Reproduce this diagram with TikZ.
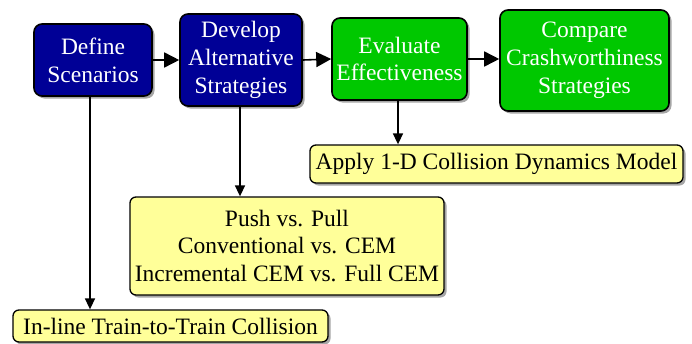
\documentclass[tikz,border=0pt]{standalone}
\usepackage{fontspec}
\setmainfont{Liberation Serif}
\usetikzlibrary{arrows.meta,shadows}
\definecolor{stepblue}{RGB}{0,0,150}
\definecolor{stepgreen}{RGB}{0,200,0}
\definecolor{noteyellow}{RGB}{255,255,153}
\tikzset{
  box/.style={draw=black, line width=1.6pt, rounded corners=8pt, align=center,
    inner sep=1pt, font=\fontsize{23.5}{27.8}\selectfont,
    drop shadow={shadow xshift=2.5pt, shadow yshift=-2.5pt, fill=black, opacity=0.35}},
  bluebox/.style={box, fill=stepblue, text=white},
  greenbox/.style={box, fill=stepgreen, text=white},
  notebox/.style={box, fill=noteyellow, text=black, rounded corners=6pt, line width=1.3pt},
  bigarrow/.style={line width=1.6pt, -{Triangle[length=15pt,width=15pt]}},
  smallarrow/.style={line width=1.6pt, -{Triangle[length=11pt,width=10pt]}}
}
\begin{document}
\begin{tikzpicture}[x=1pt,y=-1pt]
\useasboundingbox (0,0) rectangle (692,343);

\node[bluebox, minimum width=118pt, minimum height=72pt] (def) at (93,60) {Define\\Scenarios};
\node[bluebox, minimum width=122pt, minimum height=92pt] (dev) at (241,60) {Develop\\Alternative\\Strategies};
\node[greenbox, minimum width=135pt, minimum height=82pt] (eval) at (399.5,59) {Evaluate\\Effectiveness};
\node[greenbox, minimum width=169pt, minimum height=101pt] (cmp) at (584.5,60.5) {Compare\\Crashworthiness\\Strategies};

\node[notebox, minimum width=373pt, minimum height=38pt] (apply) at (496.5,164) {Apply 1-D Collision Dynamics Model};
\node[notebox, minimum width=314pt, minimum height=98pt] (push) at (287,246) {Push vs. Pull\\Conventional vs. CEM\\Incremental CEM vs. Full CEM};
\node[notebox, minimum width=315pt, minimum height=32pt] (inline) at (170.5,326) {In-line Train-to-Train Collision};

% main flow
\draw[bigarrow] (def.east) -- (dev.west);
\draw[bigarrow] (dev.east) -- (eval.west);
\draw[bigarrow] (eval.east) -- (eval.east -| cmp.west);

% details below each step
\draw[smallarrow] ([xshift=-3pt]def.south) -- ([xshift=-3pt]def.south |- inline.north);
\draw[smallarrow] ([xshift=-1pt]dev.south) -- ([xshift=-1pt]dev.south |- push.north);
\draw[smallarrow] ([xshift=-1.5pt]eval.south) -- ([xshift=-1.5pt]eval.south |- apply.north);
\end{tikzpicture}
\end{document}
